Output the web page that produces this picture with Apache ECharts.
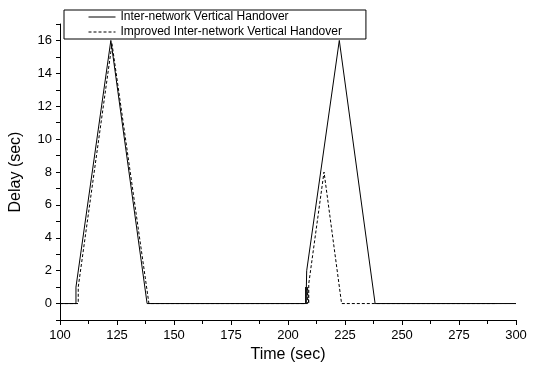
<!DOCTYPE html>
<html>
<head>
<meta charset="utf-8">
<script src="https://cdn.jsdelivr.net/npm/echarts@6/dist/echarts.min.js"></script>
<style>
html,body{margin:0;padding:0;background:#fff;}
#c{width:534px;height:368px;}
</style>
</head>
<body>
<div id="c"></div>
<script>
const seriesNames = ['Inter-network Vertical Handover', 'Improved Inter-network Vertical Handover'];
const solidTime  = [100, 107, 107, 122.3, 138.2, 207.8, 207.8, 207.9, 208.2, 208.2, 222.5, 238.2, 300];
const solidDelay = [0,   0,   1,   16,    0,     0,     1,     0,     0,     2,     16,    0,     0];
const dashedTime  = [100, 108, 108, 122.8, 139.0, 208.6, 208.6, 208.8, 209.1, 209.1, 215.8, 223.5, 291.7];
const dashedDelay = [0,   0,   1,   15.8,  0,     0,     1,     0.4,   0,     1.2,   8,     0,     0];
const yLabels = [0, 2, 4, 6, 8, 10, 12, 14, 16];

function pairs(t, v) { return t.map((x, i) => [x, v[i]]); }

const font = 'Arial, "Liberation Sans", sans-serif';
const chart = echarts.init(document.getElementById('c'), null, {renderer: 'canvas'});
chart.setOption({
  animation: false,
  backgroundColor: '#fff',
  grid: {left: 60, right: 18, top: 24, bottom: 45, containLabel: false},
  legend: {
    left: 64, top: 10, orient: 'vertical',
    padding: [1, 24, 1, 24],
    itemGap: 3, itemWidth: 27, itemHeight: 10,
    borderColor: '#000', borderWidth: 1, borderRadius: 0,
    itemStyle: {opacity: 0},
    lineStyle: {width: 1},
    textStyle: {fontFamily: font, fontSize: 12, color: '#000'},
    data: seriesNames
  },
  xAxis: {
    type: 'value', min: 100, max: 300, interval: 25,
    name: 'Time (sec)', nameLocation: 'middle', nameGap: 27,
    nameTextStyle: {fontFamily: font, fontSize: 16, color: '#000'},
    axisLine: {onZero: false, lineStyle: {color: '#000', width: 1}},
    axisTick: {length: 5, lineStyle: {color: '#000'}},
    minorTick: {show: true, splitNumber: 2, length: 4, lineStyle: {color: '#000'}},
    axisLabel: {fontFamily: font, fontSize: 13, color: '#000', margin: 9},
    splitLine: {show: false}
  },
  yAxis: {
    type: 'value', min: -1, max: 17, interval: 1,
    name: 'Delay (sec)', nameLocation: 'middle', nameGap: 36, nameRotate: 90,
    nameTextStyle: {fontFamily: font, fontSize: 16, color: '#000'},
    axisLine: {show: true, onZero: false, lineStyle: {color: '#000', width: 1}},
    axisTick: {show: true, length: 4, lineStyle: {color: '#000'}},
    axisLabel: {
      fontFamily: font, fontSize: 13, color: '#000', margin: 8,
      formatter: v => yLabels.indexOf(v) >= 0 ? String(v) : ''
    },
    splitLine: {show: false}
  },
  series: [
    {
      name: seriesNames[0], type: 'line', data: pairs(solidTime, solidDelay),
      symbol: 'none', silent: true,
      lineStyle: {color: '#000', width: 1, type: 'solid'},
      itemStyle: {color: '#000'}
    },
    {
      name: seriesNames[1], type: 'line', data: pairs(dashedTime, dashedDelay),
      symbol: 'none', silent: true,
      lineStyle: {color: '#000', width: 1, type: [3, 2]},
      itemStyle: {color: '#000'}
    }
  ]
});
</script>
</body>
</html>
